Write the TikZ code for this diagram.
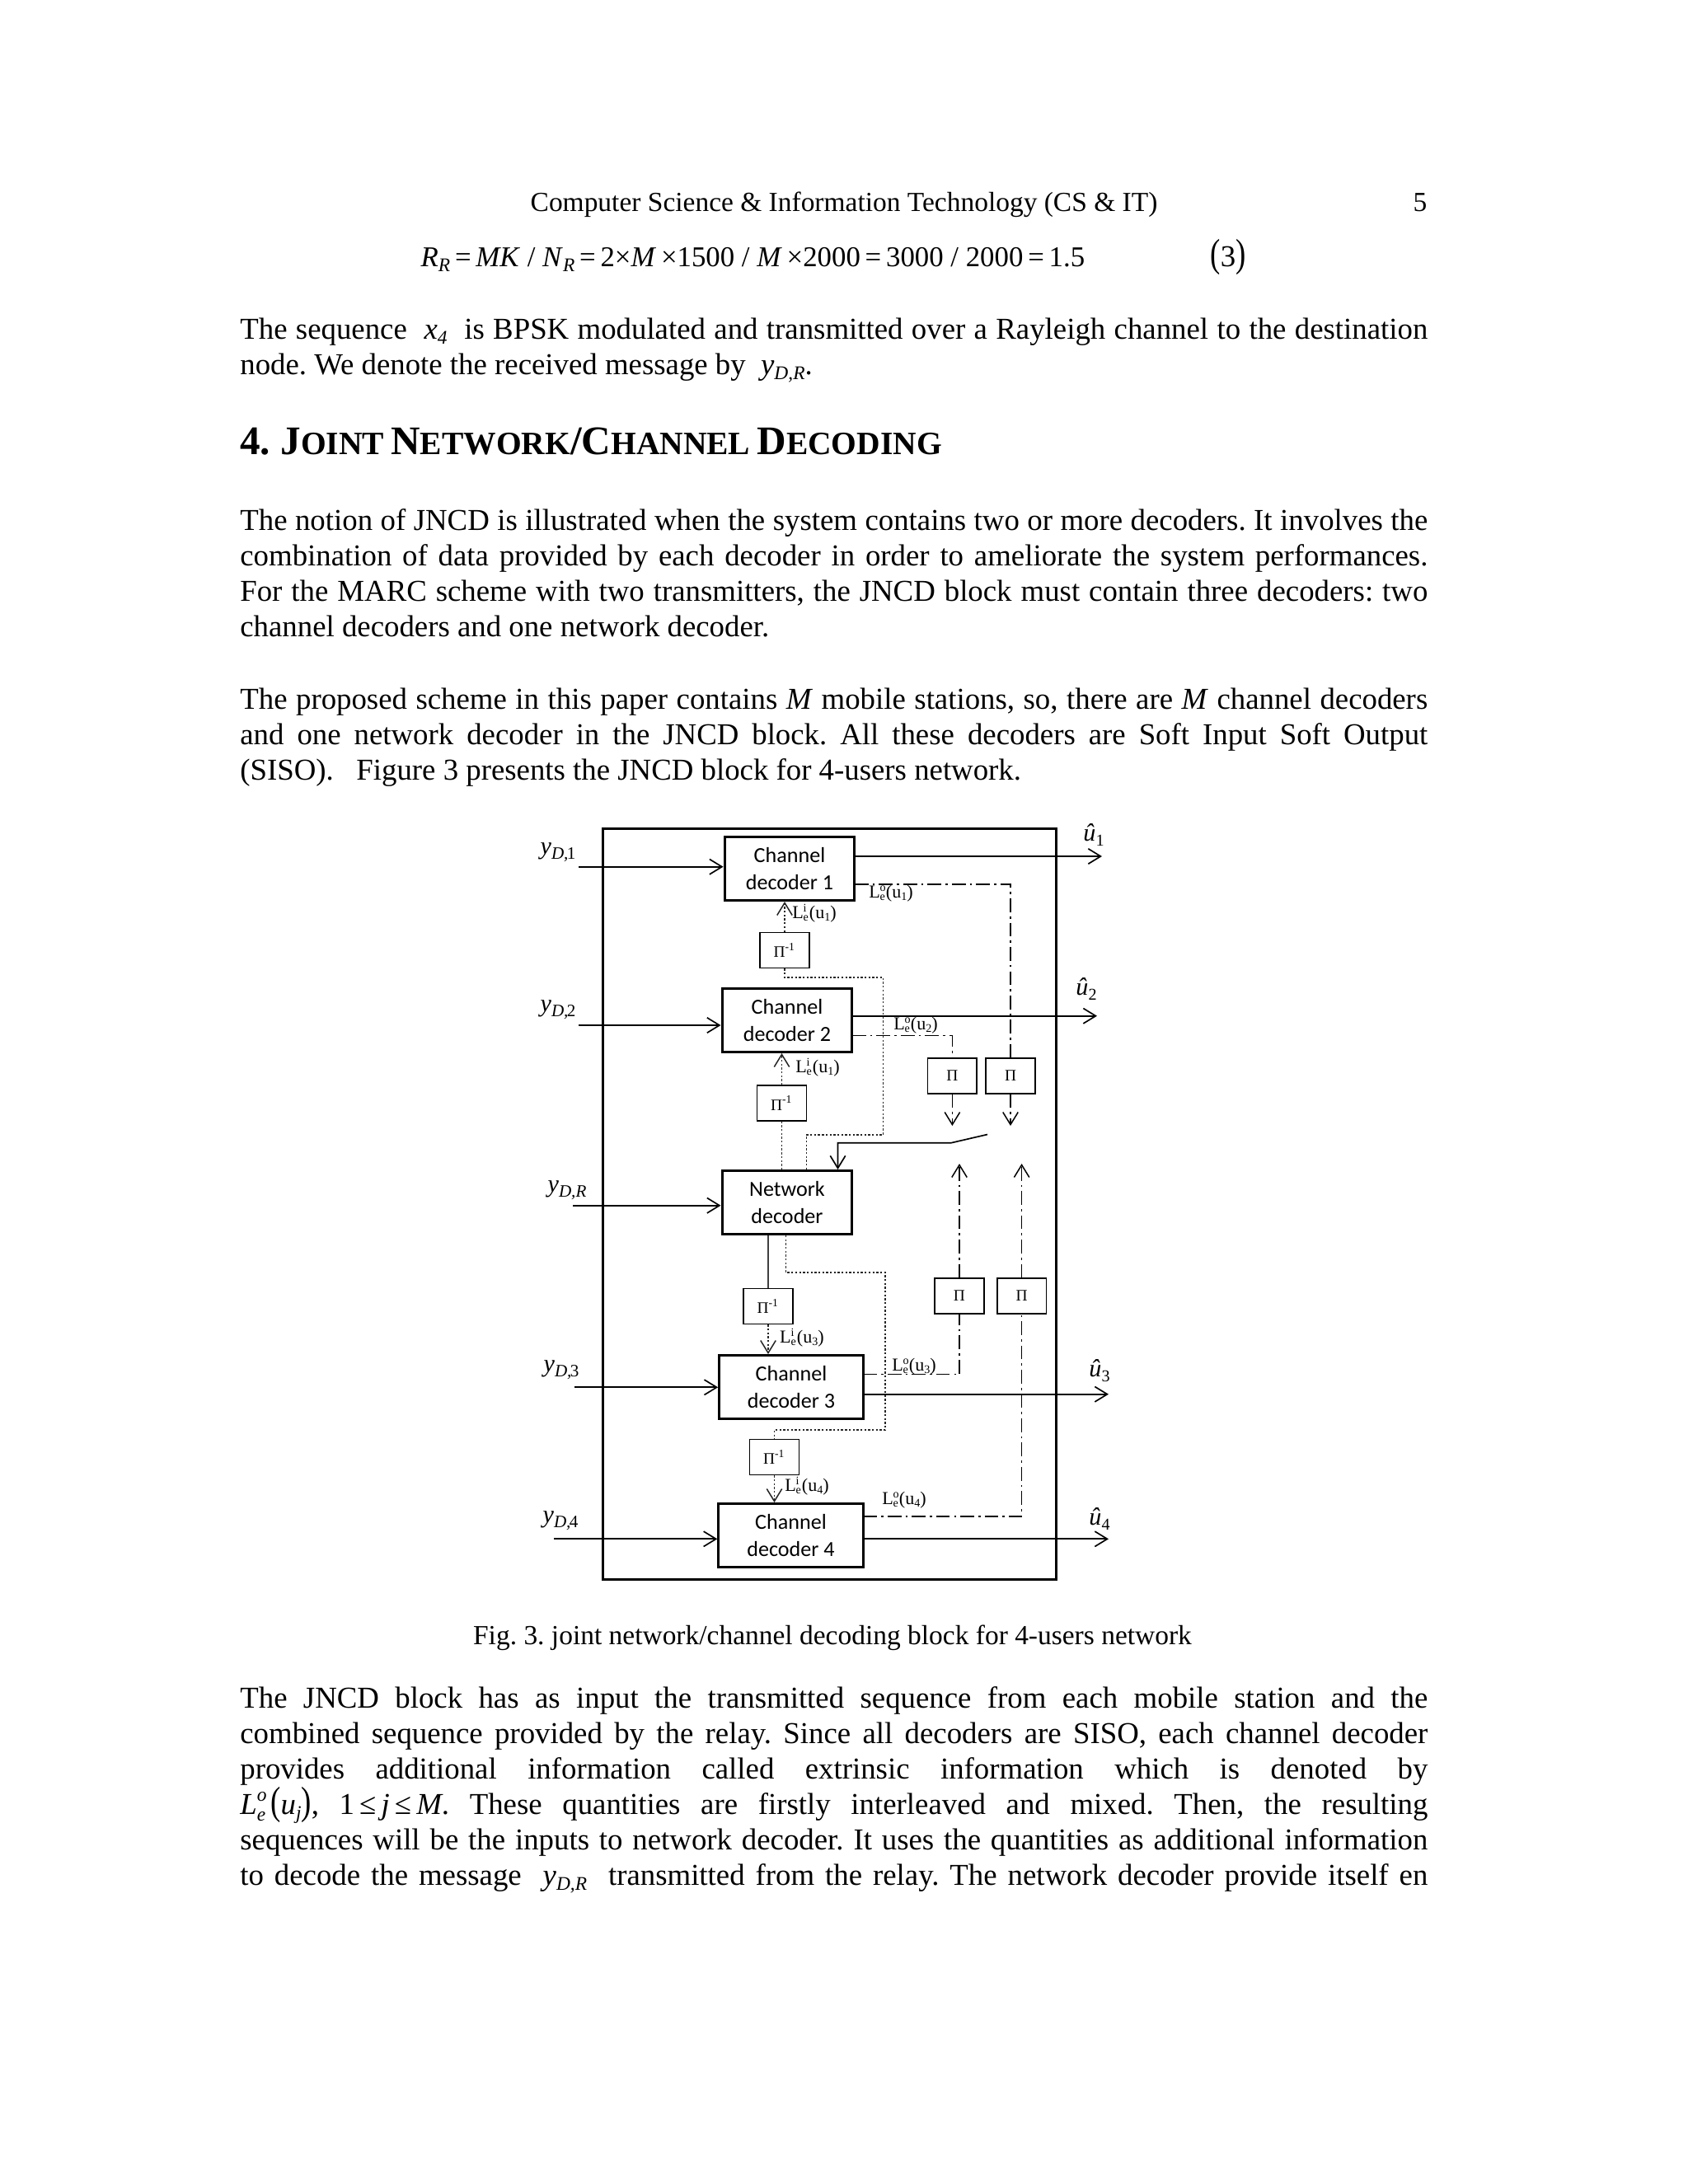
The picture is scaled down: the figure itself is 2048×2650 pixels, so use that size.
\documentclass[tikz,border=0pt]{standalone}
\usepackage{graphicx}
\usepackage{fontspec}
\setmainfont{Liberation Serif}
\newfontfamily\boxfont{Carlito}
\usetikzlibrary{arrows.meta,positioning}
\frenchspacing

% one pixel of the page
\def\pu{0.29883pt}

% small raised / lowered indices
\newcommand{\lo}[1]{\raisebox{-0.4ex}{\fontsize{7}{8}\selectfont\itshape #1}}
\newcommand{\stk}[2]{\rlap{\raisebox{0.9ex}{\fontsize{7}{8}\selectfont\itshape #1}}\raisebox{-0.5ex}{\fontsize{7}{8}\selectfont\itshape #2}}
\newcommand{\ext}[2]{L\rlap{\raisebox{0.8ex}{\fontsize{4.2}{5}\selectfont #1}}\raisebox{-0.3ex}{\fontsize{4.2}{5}\selectfont e}\kern0.3pt(u\raisebox{-0.3ex}{\fontsize{4.2}{5}\selectfont #2})}
\newcommand{\yin}[1]{\textit{y}\raisebox{-0.45ex}{\fontsize{6.3}{7}\selectfont\itshape #1}}
\newcommand{\uhat}[1]{\textit{\^u}\raisebox{-0.45ex}{\fontsize{6}{7}\selectfont #1}}
\newcommand{\scw}[2]{{\fontsize{14.7}{17}\selectfont #1}{\fontsize{11.8}{14}\selectfont #2}}
\newcommand{\bigpar}[1]{\scalebox{1}[1.3]{(}#1\scalebox{1}[1.3]{)}}

\tikzset{
  dec/.style={draw, line width=0.9pt, minimum width=47.2pt, minimum height=23pt, inner sep=0pt, align=center, font=\boxfont\fontsize{7.8}{9.6}\selectfont},
  ilv/.style={draw, line width=0.45pt, minimum width=17.8pt, minimum height=12.8pt, inner sep=0pt, font=\fontsize{5.8}{6}\selectfont},
  tip/.style={-{Straight Barb[length=4.5pt,width=5.5pt]}},
  sig/.style={line width=0.5pt, tip},
  extr/.style={line width=0.45pt, dash pattern=on 5pt off 1.5pt on 0.8pt off 1.5pt},
  intr/.style={line width=0.45pt, dash pattern=on 0.7pt off 0.7pt, black!85},
  lbl/.style={inner sep=0pt, font=\fontsize{6.6}{7}\selectfont},
  sym/.style={inner sep=0pt, font=\fontsize{9}{10}\selectfont},
  body/.style={anchor=base west, inner sep=0pt, font=\fontsize{11}{12.85}\selectfont}
}

\begin{document}
\begin{tikzpicture}[x=\pu, y=-\pu]
  \useasboundingbox[fill=white] (0,0) rectangle (2048,2650);

  % page head and equation
  \node[anchor=base, inner sep=0pt, font=\fontsize{10}{12}\selectfont] (hdr) at (1024,256) {Computer Science \& Information Technology (CS \& IT)};
  \node[anchor=base east, inner sep=0pt, font=\fontsize{10}{12}\selectfont] (pgno) at (1732,256) {5};
  \node[anchor=base west, inner sep=0pt, font=\fontsize{10.4}{13}\selectfont] (eqn) at (510,323)
    {\textit{R}\lo{R}\,=\,\textit{MK} / \textit{N}\lo{R}\,=\,2×\textit{M}\,×1500 / \textit{M}\,×2000\,=\,3000 / 2000\,=\,1.5};
  \node[anchor=base west, inner sep=0pt, font=\fontsize{11}{13}\selectfont] (eqno) at (1468,323) {\bigpar{3}};

  \node[body] (par1) at (290.7,411) {\parbox[t]{430.6pt}{The sequence ~\textit{x}\lo{4}~ is BPSK modulated and transmitted over a Rayleigh channel to the destination\linebreak
    node. We denote the received message by ~\textit{y}\lo{D,R}.}};

  \node[anchor=base west, inner sep=0pt, font=\bfseries] (sec) at (290.7,551)
    {\scw{4. J}{OINT} \scw{N}{ETWORK}\scw{/C}{HANNEL} \scw{D}{ECODING}};

  \node[body] (par2) at (290.7,643) {\parbox[t]{430.6pt}{The notion of JNCD is illustrated when the system contains two or more decoders. It involves the\linebreak
    combination of data provided by each decoder in order to ameliorate the system performances.\linebreak
    For the MARC scheme with two transmitters, the JNCD block must contain three decoders: two\linebreak
    channel decoders and one network decoder.}};

  \node[body] (par3) at (290.7,860) {\parbox[t]{430.6pt}{The proposed scheme in this paper contains \textit{M} mobile stations, so, there are \textit{M} channel decoders\linebreak
    and one network decoder in the JNCD block. All these decoders are Soft Input Soft Output\linebreak
    (SISO).\ \ \ Figure 3 presents the JNCD block for 4-users network.}};

  % JNCD block
  \draw[line width=0.9pt] (731.8,1005) rectangle (1281.4,1916.7);

  \node[dec] (dec1) at (958,1054) {Channel\\decoder 1};
  \node[dec] (dec2) at (955,1238) {Channel\\decoder 2};
  \node[dec] (net) at (955,1459) {Network\\decoder};
  \node[dec, minimum width=52.2pt] (dec3) at (960,1683) {Channel\\decoder 3};
  \node[dec, minimum width=52.4pt] (dec4) at (959.5,1863) {Channel\\decoder 4};

  \node[ilv] (pi1) at (952,1153) {Π\textsuperscript{-1}};
  \node[ilv] (pi2) at (948.5,1338.5) {Π\textsuperscript{-1}};
  \node[ilv] (pi3) at (932,1585) {Π\textsuperscript{-1}};
  \node[ilv] (pi4) at (939.5,1768) {Π\textsuperscript{-1}};
  \node[ilv] (piA) at (1155.4,1305.5) {Π};
  \node[ilv] (piB) at (1226,1305.5) {Π};
  \node[ilv] (piC) at (1164,1572.5) {Π};
  \node[ilv] (piD) at (1239.6,1572.5) {Π};

  % received sequences and decisions
  \coordinate (in1) at (702,1051.7);
  \coordinate (in2) at (702,1244);
  \coordinate (inR) at (695,1462.7);
  \coordinate (in3) at (697,1683.3);
  \coordinate (in4) at (672,1867.3);
  \draw[sig] (in1) -- (in1 -| dec1.west);
  \draw[sig] (in2) -- (in2 -| dec2.west);
  \draw[sig] (inR) -- (inR -| net.west);
  \draw[sig] (in3) -- (in3 -| dec3.west);
  \draw[sig] (in4) -- (in4 -| dec4.west);
  \node[sym] (y1) at (677,1034) {\yin{D,}\kern-0.5pt\raisebox{-0.45ex}{\fontsize{6.3}{7}\selectfont 1}};
  \node[sym] (y2) at (677,1225) {\yin{D,}\kern-0.5pt\raisebox{-0.45ex}{\fontsize{6.3}{7}\selectfont 2}};
  \node[sym] (yR) at (688,1444) {\yin{D,R}};
  \node[sym] (y3) at (681,1662) {\yin{D,}\kern-0.5pt\raisebox{-0.45ex}{\fontsize{6.3}{7}\selectfont 3}};
  \node[sym] (y4) at (680,1845) {\yin{D,}\kern-0.5pt\raisebox{-0.45ex}{\fontsize{6.3}{7}\selectfont 4}};

  \coordinate (out1) at (1337,1039);
  \coordinate (out2) at (1331,1232.7);
  \coordinate (out3) at (1345,1691.7);
  \coordinate (out4) at (1345,1867.3);
  \draw[sig] (dec1.east |- out1) -- (out1);
  \draw[sig] (dec2.east |- out2) -- (out2);
  \draw[sig] (dec3.east |- out3) -- (out3);
  \draw[sig] (dec4.east |- out4) -- (out4);
  \node[sym] (u1) at (1327,1013) {\uhat{1}};
  \node[sym] (u2) at (1318,1200) {\uhat{2}};
  \node[sym] (u3) at (1334,1663) {\uhat{3}};
  \node[sym] (u4) at (1334,1843) {\uhat{4}};

  % extrinsic information to the interleavers
  \coordinate (ex1) at (1037,1073);
  \coordinate (ex2) at (1034,1256.7);
  \coordinate (ex3) at (1047.4,1667.7);
  \coordinate (ex4) at (1047.4,1840);
  \draw[extr] (ex1) -| (piB.north);
  \draw[extr] (ex2) -| (piA.north);
  \draw[extr] (ex3) -| (piC.south);
  \draw[extr] (ex4) -| (piD.south);
  \coordinate (sA) at (1155.4,1366);
  \coordinate (sB) at (1226,1366);
  \coordinate (sC) at (1164,1412);
  \coordinate (sD) at (1239.6,1412);
  \draw[extr, tip] (piA.south) -- (sA);
  \draw[extr, tip] (piB.south) -- (sB);
  \draw[extr, tip] (piC.north) -- (sC);
  \draw[extr, tip] (piD.north) -- (sD);

  % switch into the network decoder
  \coordinate (swA) at (1198,1376.5);
  \coordinate (swP) at (1154,1386.7);
  \coordinate (swC) at (1016.5,1386.7);
  \draw[sig] (swA) -- (swP) -- (swC) -- (swC |- net.north);

  % intrinsic information back to the channel decoders
  \coordinate (k1) at (978.4,1377);
  \coordinate (k2) at (953.6,1544);
  \draw[intr] (pi1.south) |- (1071.6,1186) |- (k1) -- (k1 |- net.north);
  \draw[intr, tip] (pi1.north) -- (pi1.north |- dec1.south);
  \draw[intr] (pi2.south) -- (pi2.south |- net.north);
  \draw[intr, tip] (pi2.north) -- (pi2.north |- dec2.south);
  \draw[line width=0.4pt, black!75] (pi3.north |- net.south) -- (pi3.north);
  \draw[intr, tip] (pi3.south) -- (pi3.south |- dec3.north);
  \draw[intr] (k2 |- net.south) -- (k2) -| (1074,1735) -| (pi4.north);
  \draw[intr, tip] (pi4.south) -- (pi4.south |- dec4.north);

  \node[lbl] (lo1) at (1081,1084) {\ext{o}{1}};
  \node[lbl] (li1) at (988,1108) {\ext{i}{1}};
  \node[lbl] (lo2) at (1111,1244) {\ext{o}{2}};
  \node[lbl] (li2) at (992,1295) {\ext{i}{1}};
  \node[lbl] (li3) at (973,1623) {\ext{i}{3}};
  \node[lbl] (lo3) at (1109,1658) {\ext{o}{3}};
  \node[lbl] (li4) at (979,1803) {\ext{i}{4}};
  \node[lbl] (lo4) at (1097,1820) {\ext{o}{4}};

  \node[anchor=base, inner sep=0pt, font=\fontsize{10}{12}\selectfont] (cap) at (1010,1995) {Fig. 3. joint network/channel decoding block for 4-users network};

  \node[body] (par4) at (290.7,2072) {\parbox[t]{430.6pt}{The JNCD block has as input the transmitted sequence from each mobile station and the\linebreak
    combined sequence provided by the relay. Since all decoders are SISO, each channel decoder\linebreak
    provides additional information called extrinsic information which is denoted by\linebreak
    \textit{L}\stk{o}{e}\,\bigpar{\textit{u}\lo{j}}, 1\,≤\,\textit{j}\,≤\,\textit{M}. These quantities are firstly interleaved and mixed. Then, the resulting\linebreak
    sequences will be the inputs to network decoder. It uses the quantities as additional information\linebreak
    to decode the message ~\textit{y}\lo{D,R}~ transmitted from the relay. The network decoder provide itself en\parfillskip=0pt\par}};
\end{tikzpicture}
\end{document}
